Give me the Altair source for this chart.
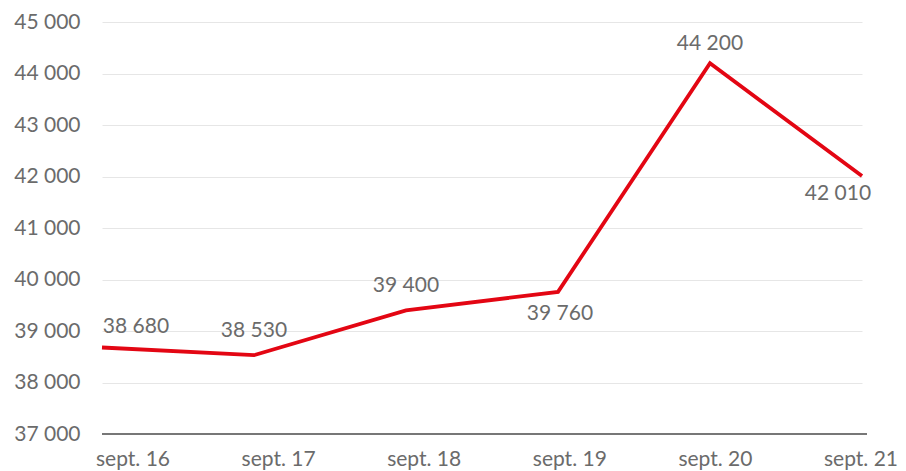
import altair as alt
import pandas as pd

dates = ["sept. 16", "sept. 17", "sept. 18", "sept. 19", "sept. 20", "sept. 21"]
values = [38680, 38530, 39400, 39760, 44200, 42010]
y_ticks = [37000, 38000, 39000, 40000, 41000, 42000, 43000, 44000, 45000]

df = pd.DataFrame({"date": dates, "value": values})

W, H = 766, 412
FONT = "Lato"
FS = 21
GRAY = "#6b6b6b"
RED = "#e30613"

base = alt.Chart(df)

x_pt = alt.X("date:N", sort=dates, scale=alt.Scale(type="point", range=[6, 766], padding=0), axis=None)
y_scale = alt.Scale(domain=[37000, 45000], nice=False, zero=False)
y_sc = alt.Y(
    "value:Q",
    scale=y_scale,
    axis=alt.Axis(
        values=y_ticks,
        title=None,
        grid=True,
        gridColor="#e6e6e6",
        gridWidth=1,
        domain=False,
        ticks=False,
        labelPadding=16,
        labelFont=FONT,
        labelFontSize=FS,
        labelColor=GRAY,
        labelExpr="replace(format(datum.value, ','), ',', ' ')",
    ),
)

line = base.mark_line(color=RED, strokeWidth=3.8).encode(x=x_pt, y=y_sc)

axis_rule = base.mark_rule(color="#777777", strokeWidth=1.5).encode(
    x=alt.value(6), x2=alt.value(771), y=alt.value(H)
)

def lab(names, dx, dy):
    return (
        base.transform_filter(alt.FieldOneOfPredicate(field="date", oneOf=names))
        .transform_calculate(lbl="replace(format(datum.value, ','), ',', ' ')")
        .mark_text(font=FONT, fontSize=FS, color=GRAY, dx=dx, dy=dy, baseline="middle", align="center")
        .encode(x=x_pt, y=alt.Y("value:Q", scale=y_scale), text="lbl:N")
    )

labels = alt.layer(
    lab(["sept. 16"], 34, -20),
    lab(["sept. 17", "sept. 18"], 0, -24),
    lab(["sept. 20"], 0, -19),
    lab(["sept. 19"], 2, 22),
    lab(["sept. 21"], -24, 18),
)

xlabels = base.mark_text(font=FONT, fontSize=FS, color=GRAY, baseline="middle", align="center").encode(
    x=alt.X("date:N", sort=dates, scale=alt.Scale(type="point", range=[37, 765], padding=0), axis=None),
    y=alt.value(H + 26),
    text="date:N",
)

chart = (
    alt.layer(line, axis_rule, labels, xlabels)
    .resolve_scale(x="independent")
    .properties(
        width=W,
        height=H,
        autosize=alt.AutoSizeParams(type="none"),
        padding={"left": 88, "top": 14, "right": 36, "bottom": 37},
    )
    .configure_view(stroke=None)
)

chart.save("out.html", embed_options={"renderer": "svg", "actions": False})
